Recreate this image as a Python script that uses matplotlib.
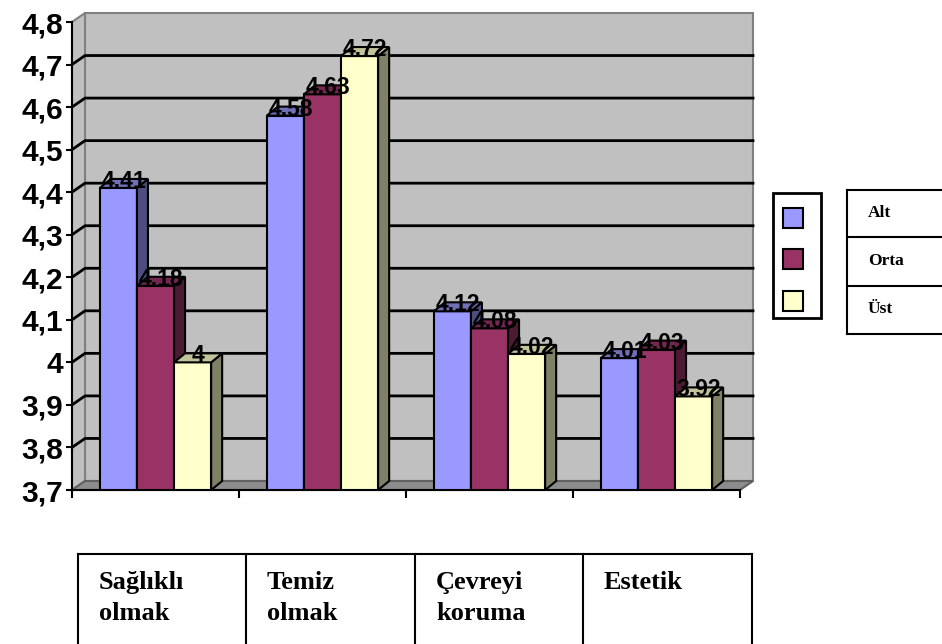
import numpy as np
import matplotlib.pyplot as plt
from matplotlib.patches import Polygon, Rectangle
from matplotlib.lines import Line2D

# --- data ---
categories = ["Sağlıklı\nolmak", "Temiz\nolmak", "Çevreyi\nkoruma", "Estetik"]
series_names = ["Alt", "Orta", "Üst"]
alt = [4.41, 4.58, 4.12, 4.01]
orta = [4.18, 4.63, 4.08, 4.03]
ust = [4.00, 4.72, 4.02, 3.92]
y_ticks = [3.7, 3.8, 3.9, 4.0, 4.1, 4.2, 4.3, 4.4, 4.5, 4.6, 4.7, 4.8]

# front / side / top shades of each series (Excel 3D style)
face_colors = ["#9999FF", "#993366", "#FFFFCC"]
side_colors = ["#4D4D80", "#4D1A33", "#808066"]
top_colors = ["#7070B8", "#732650", "#C4C49C"]

W, H = 942, 644
fig = plt.figure(figsize=(W / 100, H / 100), dpi=100)


def fpx(x, y):
    """pixel position -> figure fraction"""
    return x / W, 1 - y / H


# axes covers the front plane of the 3D box
ax = fig.add_axes([72 / W, 1 - 490 / H, 668 / W, 468 / H])
ymin, ymax = y_ticks[0], y_ticks[-1]
ncat = len(categories)
ax.set_xlim(0, ncat)
ax.set_ylim(ymin, ymax)
ax.patch.set_visible(False)

px_x = 668 / ncat           # pixels per category
px_y = 468 / (ymax - ymin)  # pixels per value unit
wall_dx, wall_dy = 13 / px_x, 9 / px_y
bar_dx, bar_dy = 11 / px_x, 9 / px_y

# walls and floor
wall_kw = dict(clip_on=False, lw=1.5, zorder=0.5)
ax.add_patch(Polygon([(wall_dx, ymin + wall_dy), (ncat + wall_dx, ymin + wall_dy),
                      (ncat + wall_dx, ymax + wall_dy), (wall_dx, ymax + wall_dy)],
                     fc="#C0C0C0", ec="#808080", **wall_kw))
ax.add_patch(Polygon([(0, ymin), (wall_dx, ymin + wall_dy),
                      (wall_dx, ymax + wall_dy), (0, ymax)],
                     fc="#C0C0C0", ec="#808080", **wall_kw))
ax.add_patch(Polygon([(0, ymin), (ncat, ymin),
                      (ncat + wall_dx, ymin + wall_dy), (wall_dx, ymin + wall_dy)],
                     fc="#8C8C8C", ec="#606060", **wall_kw))

# gridlines run across the side wall and the back wall
for t in y_ticks[1:-1]:
    ax.add_line(Line2D([0, wall_dx, ncat + wall_dx], [t, t + wall_dy, t + wall_dy],
                       color="black", lw=2, clip_on=False, zorder=1))

# bars
w = 1 / 4.5
cat_x = np.arange(ncat)
for i, vals in enumerate([alt, orta, ust]):
    lefts = cat_x + (0.75 + i) * w
    z = 3 + i
    ax.bar(lefts, np.array(vals) - ymin, bottom=ymin, width=w, align="edge",
           color=face_colors[i], edgecolor="black", lw=1.5, zorder=z)
    for x0, v in zip(lefts, vals):
        x1 = x0 + w
        ax.add_patch(Polygon([(x1, ymin), (x1 + bar_dx, ymin + bar_dy),
                              (x1 + bar_dx, v + bar_dy), (x1, v)],
                             fc=side_colors[i], ec="black", lw=1.5,
                             clip_on=False, zorder=z))
        ax.add_patch(Polygon([(x0, v), (x1, v), (x1 + bar_dx, v + bar_dy),
                              (x0 + bar_dx, v + bar_dy)],
                             fc=top_colors[i], ec="black", lw=1.5,
                             clip_on=False, zorder=z))
        ax.text(x0 + w / 2 + bar_dx / 2, v, f"{v:g}", ha="center", va="baseline",
                fontsize=16.5, fontweight="bold", family="Liberation Sans",
                clip_on=False, zorder=10)

# axes, ticks
for s in ["top", "right"]:
    ax.spines[s].set_visible(False)
for s in ["left", "bottom"]:
    ax.spines[s].set_linewidth(1.5)
    ax.spines[s].set_zorder(2)
ax.set_yticks(y_ticks)
ax.set_yticklabels([f"{t:g}".replace(".", ",") for t in y_ticks],
                   fontsize=21.5, fontweight="bold", family="Liberation Sans")
ax.set_xticks(np.arange(ncat + 1))
ax.set_xticklabels([])
ax.tick_params(axis="y", length=4.5, width=1.5, pad=2)
ax.tick_params(axis="x", length=6, width=1.5)

# legend keys
fig.patches.append(Rectangle(fpx(773, 318), 48 / W, 125 / H, transform=fig.transFigure,
                             fc="white", ec="black", lw=2))
for i, yc in enumerate([218, 259, 301]):
    fig.patches.append(Rectangle(fpx(783, yc + 10), 20 / W, 20 / H,
                                 transform=fig.transFigure,
                                 fc=face_colors[i], ec="black", lw=1.5))

# legend label table
for y in [190, 237, 286, 334]:
    fig.add_artist(Line2D([847 / W, 1], [1 - y / H] * 2, color="black", lw=1.5))
fig.add_artist(Line2D([847 / W] * 2, [1 - 190 / H, 1 - 334 / H], color="black", lw=1.5))
for name, yc in zip(series_names, [213, 261, 309]):
    fig.text(*fpx(868, yc), name, ha="left", va="center", fontsize=12.5,
             fontweight="bold", family="Liberation Serif")

# category table under the chart
col_x = [78, 246, 415, 583, 752]
fig.add_artist(Line2D([col_x[0] / W, col_x[-1] / W], [1 - 554 / H] * 2,
                      color="black", lw=1.5))
for x in col_x:
    fig.add_artist(Line2D([x / W] * 2, [1 - 554 / H, 0], color="black", lw=1.5))
for x, cat in zip(col_x[:-1], categories):
    fig.text(*fpx(x + 21, 571), cat, ha="left", va="top", fontsize=19,
             fontweight="bold", family="Liberation Serif", linespacing=1.45)

fig.savefig("out.png", dpi=100)
